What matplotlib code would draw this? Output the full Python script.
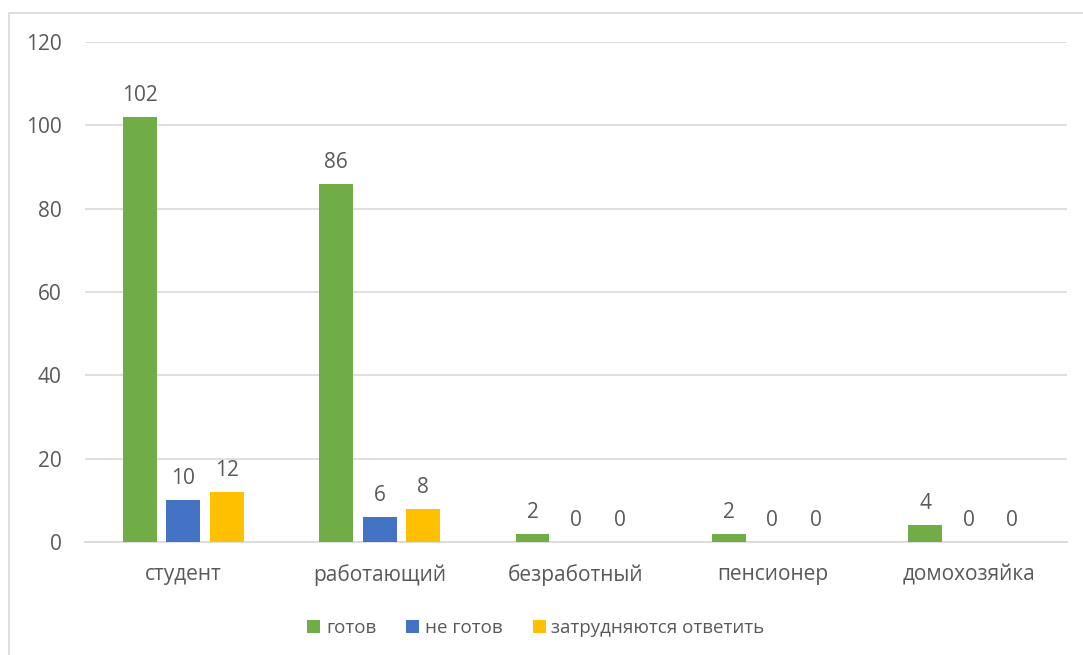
import matplotlib
matplotlib.use("Agg")
import matplotlib.pyplot as plt
import numpy as np
from matplotlib.patches import Rectangle

categories = ["студент", "работающий", "безработный", "пенсионер", "домохозяйка"]
series_names = ["готов", "не готов", "затрудняются ответить"]
ready = [102, 86, 2, 2, 4]
not_ready = [10, 6, 0, 0, 0]
unsure = [12, 8, 0, 0, 0]
colors = ["#70ad47", "#4472c4", "#ffc000"]
yticks = [0, 20, 40, 60, 80, 100, 120]

plt.rcParams['font.family'] = ['Open Sans', 'DejaVu Sans']
txt = "#595959"
fs = 15

W, H = 1083, 655
fig = plt.figure(figsize=(W/100, H/100), dpi=100)
ax = fig.add_axes([85/W, 1-542/H, (1067-85)/W, 500/H])

x = np.arange(len(categories))
bw = 0.173
step = 0.2215
series = [ready, not_ready, unsure]
for i, (vals, c, name) in enumerate(zip(series, colors, series_names)):
    pos = x + (i-1)*step
    ax.bar(pos, vals, width=bw, color=c, label=name, zorder=3)
    for p, v in zip(pos, vals):
        ax.annotate(str(v), (p, v), xytext=(0, 8), textcoords='offset points',
                    ha='center', va='bottom', fontsize=fs, color=txt)

ax.set_xlim(-0.5, len(categories)-0.5)
ax.set_ylim(0, 120)
ax.set_yticks(yticks)
ax.set_yticklabels([str(t) for t in yticks])
ax.set_xticks(x)
ax.set_xticklabels(categories)
ax.tick_params(axis='both', length=0, labelsize=fs, colors=txt)
ax.tick_params(axis='y', pad=17)
ax.tick_params(axis='x', pad=16)
ax.grid(axis='y', color='#d9d9d9', linewidth=1.2, zorder=0)
for s in ['top', 'right', 'left']:
    ax.spines[s].set_visible(False)
ax.spines['bottom'].set_color('#d9d9d9')
ax.spines['bottom'].set_linewidth(1.2)

leg = fig.legend(loc='center', bbox_to_anchor=(536/W, 1-628/H), ncol=3, frameon=False,
                 fontsize=13.5, handlelength=0.7, handleheight=0.7, handletextpad=0.3,
                 columnspacing=1.6, labelcolor=txt)

fig.add_artist(Rectangle((8.5/W, -0.1), 1.2, 1-13/H+0.1, transform=fig.transFigure,
                         fill=False, edgecolor='#d9d9d9', linewidth=1.2))

fig.savefig("out.png", dpi=100)
